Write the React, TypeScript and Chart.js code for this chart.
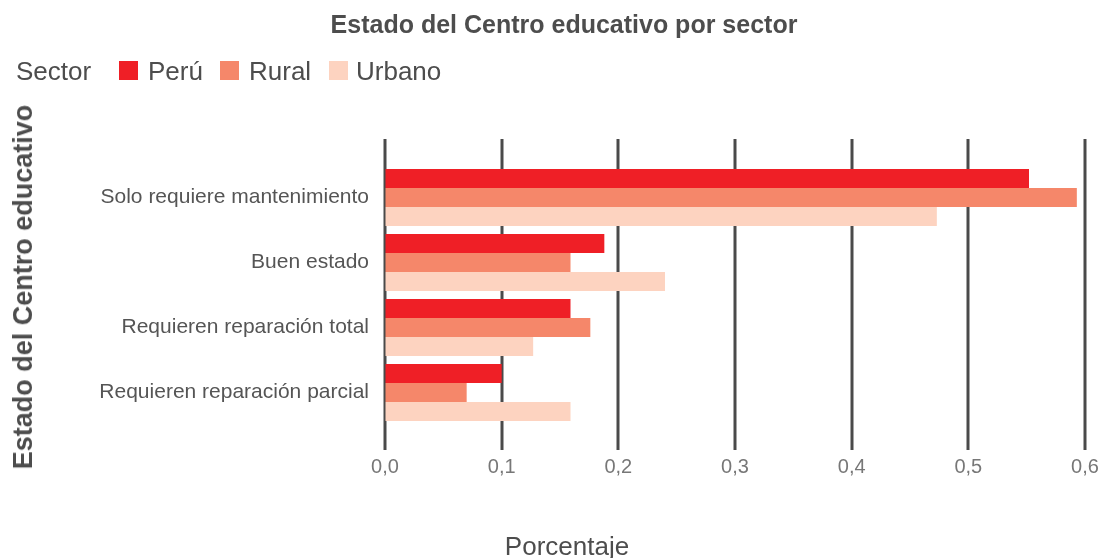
import React, { useEffect, useRef } from "react";
import { Chart, registerables } from "chart.js";

Chart.register(...registerables);

const categories = [
  "Solo requiere mantenimiento",
  "Buen estado",
  "Requieren reparación total",
  "Requieren reparación parcial",
];
const seriesNames = ["Perú", "Rural", "Urbano"];
const peru = [0.552, 0.188, 0.159, 0.1];
const rural = [0.593, 0.159, 0.176, 0.07];
const urbano = [0.473, 0.24, 0.127, 0.159];
const seriesColors = ["#ef1f26", "#f5876a", "#fdd3c0"];
const chartTitle = "Estado del Centro educativo por sector";
const legendTitle = "Sector";
const xTitle = "Porcentaje";
const yTitle = "Estado del Centro educativo";

const FONT = "'Liberation Sans', Arial, Helvetica, sans-serif";

const gridPlugin = {
  id: "extGrid",
  beforeDatasetsDraw(chart: any) {
    const { ctx, chartArea, scales } = chart;
    const x = scales.x;
    ctx.save();
    ctx.strokeStyle = "#4a4a4a";
    ctx.lineWidth = 3;
    x.ticks.forEach((t: any) => {
      const px = Math.round(x.getPixelForValue(t.value));
      ctx.beginPath();
      ctx.moveTo(px, chartArea.top - 26);
      ctx.lineTo(px, chartArea.bottom + 25);
      ctx.stroke();
    });
    ctx.restore();
  },
};

export default function App() {
  const ref = useRef<HTMLCanvasElement | null>(null);

  useEffect(() => {
    if (!ref.current) return;
    const data = [peru, rural, urbano];
    const chart = new Chart(ref.current, {
      type: "bar",
      data: {
        labels: categories,
        datasets: seriesNames.map((name, i) => ({
          label: name,
          data: data[i],
          backgroundColor: seriesColors[i],
          borderWidth: 0,
          categoryPercentage: 0.877,
          barPercentage: 1,
        })),
      },
      options: {
        indexAxis: "y",
        animation: false,
        responsive: true,
        maintainAspectRatio: false,
        layout: { padding: { top: 165, right: 19, left: 0, bottom: 0 } },
        plugins: {
          legend: { display: false },
          title: { display: false },
          tooltip: { enabled: false },
        },
        scales: {
          x: {
            type: "linear",
            min: 0,
            max: 0.6,
            grid: {
              display: true,
              drawOnChartArea: false,
              drawTicks: true,
              tickLength: 30,
              color: "rgba(0,0,0,0)",
            },
            border: { display: false },
            ticks: {
              stepSize: 0.1,
              padding: 0,
              color: "#777777",
              font: { family: FONT, size: 20 },
              callback: (v: any) => Number(v).toFixed(1).replace(".", ","),
            },
            afterFit: (s: any) => {
              s.height = 133;
            },
          },
          y: {
            grid: { display: false, drawTicks: false },
            border: { display: false },
            ticks: {
              padding: 16,
              color: "#555555",
              font: { family: FONT, size: 21 },
            },
            afterFit: (s: any) => {
              s.width = 385;
            },
          },
        },
      },
      plugins: [gridPlugin],
    });
    return () => chart.destroy();
  }, []);

  const textBase: React.CSSProperties = {
    position: "absolute",
    fontFamily: FONT,
    whiteSpace: "nowrap",
    color: "#4d4d4d",
  };

  const legendItems = [
    { sq: 119, tx: 148 },
    { sq: 220, tx: 249 },
    { sq: 329, tx: 356 },
  ];

  return (
    <div
      style={{
        position: "fixed",
        left: 0,
        top: 0,
        width: 1104,
        height: 558,
        background: "#ffffff",
      }}
    >
      <canvas ref={ref} style={{ position: "absolute", left: 0, top: 0 }} />
      <div
        style={{
          ...textBase,
          left: 564,
          top: 9,
          transform: "translateX(-50%)",
          fontSize: 25,
          lineHeight: "30px",
          fontWeight: "bold",
        }}
      >
        {chartTitle}
      </div>
      <div style={{ ...textBase, left: 16, top: 56, fontSize: 26, lineHeight: "30px" }}>
        {legendTitle}
      </div>
      {seriesNames.map((name, i) => (
        <React.Fragment key={name}>
          <div
            style={{
              position: "absolute",
              left: legendItems[i].sq,
              top: 61,
              width: 19,
              height: 19,
              background: seriesColors[i],
            }}
          />
          <div
            style={{
              ...textBase,
              left: legendItems[i].tx,
              top: 56,
              fontSize: 26,
              lineHeight: "30px",
            }}
          >
            {name}
          </div>
        </React.Fragment>
      ))}
      <div
        style={{
          ...textBase,
          left: 23,
          top: 287,
          transform: "translate(-50%, -50%) rotate(-90deg)",
          fontSize: 27,
          lineHeight: "32px",
          fontWeight: "bold",
        }}
      >
        {yTitle}
      </div>
      <div
        style={{
          ...textBase,
          left: 567,
          top: 531,
          transform: "translateX(-50%)",
          fontSize: 26,
          lineHeight: "30px",
        }}
      >
        {xTitle}
      </div>
    </div>
  );
}
